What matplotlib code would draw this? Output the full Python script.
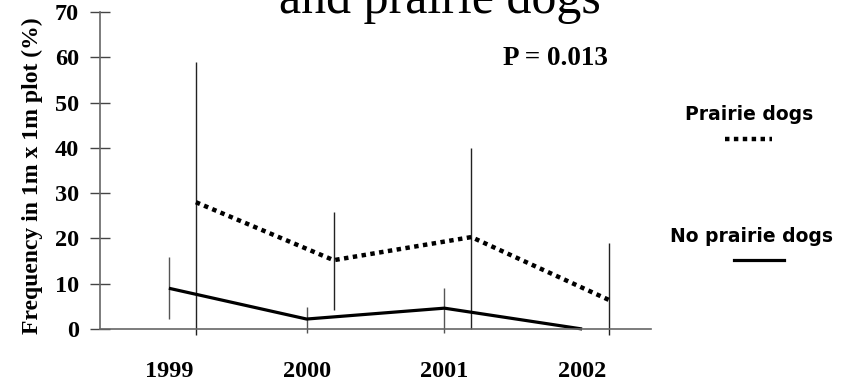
import matplotlib
matplotlib.use("Agg")
import matplotlib.pyplot as plt
from matplotlib.lines import Line2D

years = ["1999", "2000", "2001", "2002"]

# No prairie dogs: mean, lower error, upper error
no_pd_mean = [9.0, 2.2, 4.6, 0.0]
no_pd_err_low = [6.8, 3.0, 5.5, 0.0]
no_pd_err_high = [7.0, 2.7, 4.4, 0.0]

# Prairie dogs: mean, lower error, upper error
pd_mean = [28.0, 15.2, 20.3, 6.4]
pd_err_low = [29.3, 11.0, 20.3, 7.7]
pd_err_high = [31.0, 10.6, 19.7, 12.6]

p_text = "P = 0.013"

serif = ["Liberation Serif", "DejaVu Serif"]

fig = plt.figure(figsize=(8.5, 3.89), dpi=100)
ax = fig.add_axes([100 / 850, 1 - 329 / 389, 551 / 850, 317 / 389])

x = list(range(len(years)))
x_pd = [v + 0.196 for v in x]

# error bars first so the lines sit on top
ax.errorbar(x, no_pd_mean, yerr=[no_pd_err_low, no_pd_err_high],
            fmt="none", ecolor="#555555", elinewidth=1.0, capsize=0,
            clip_on=False)
ax.errorbar(x_pd, pd_mean, yerr=[pd_err_low, pd_err_high],
            fmt="none", ecolor="#222222", elinewidth=1.0, capsize=0,
            clip_on=False)

ax.plot(x, no_pd_mean, color="black", linewidth=2.3, clip_on=False,
        solid_capstyle="butt")
ax.plot(x_pd, pd_mean, color="black", linewidth=3.2,
        linestyle=(0, (1, 1)), dash_capstyle="butt", clip_on=False)

ax.set_xlim(-0.5, 3.5)
ax.set_ylim(0, 70)
ax.set_yticks(range(0, 71, 10))
ax.set_xticks(x)
ax.set_xticklabels(years)

for side in ["top", "right"]:
    ax.spines[side].set_visible(False)
for side in ["left", "bottom"]:
    ax.spines[side].set_color("#666666")
    ax.spines[side].set_linewidth(1.2)

ax.tick_params(axis="y", direction="inout", length=14, width=1.0,
               color="#444444", pad=8)
ax.tick_params(axis="x", length=0, pad=23)

for lab in ax.get_yticklabels() + ax.get_xticklabels():
    lab.set_fontfamily(serif)
    lab.set_fontweight("bold")
    lab.set_fontsize(17.5)

fig.text(32 / 850, 1 - 176 / 389, "Frequency in 1m x 1m plot (%)",
         rotation=90, ha="center", va="center", fontsize=17,
         fontweight="bold", family=serif)

# title, partly cut off at the top
fig.text(440 / 850, 1 - 13 / 389, "and prairie dogs", ha="center",
         va="baseline", fontsize=36, family=serif)

fig.text(555 / 850, 1 - 65 / 389, p_text, ha="center", va="baseline",
         fontsize=19.5, fontweight="bold", family=serif)

# hand-made legend
fig.text(749 / 850, 1 - 115 / 389, "Prairie dogs", ha="center",
         va="center", fontsize=13.5, fontweight="bold",
         family=["DejaVu Sans"])
fig.add_artist(Line2D([725 / 850, 772 / 850], [1 - 139 / 389] * 2,
                      transform=fig.transFigure, color="black",
                      linewidth=3.2, linestyle=(0, (1, 1)),
                      dash_capstyle="butt"))
fig.text(751 / 850, 1 - 237 / 389, "No prairie dogs", ha="center",
         va="center", fontsize=13.5, fontweight="bold",
         family=["DejaVu Sans"])
fig.add_artist(Line2D([734 / 850, 784 / 850], [1 - 260 / 389] * 2,
                      transform=fig.transFigure, color="black",
                      linewidth=2.3))

fig.savefig("out.png", dpi=100)
plt.close(fig)
